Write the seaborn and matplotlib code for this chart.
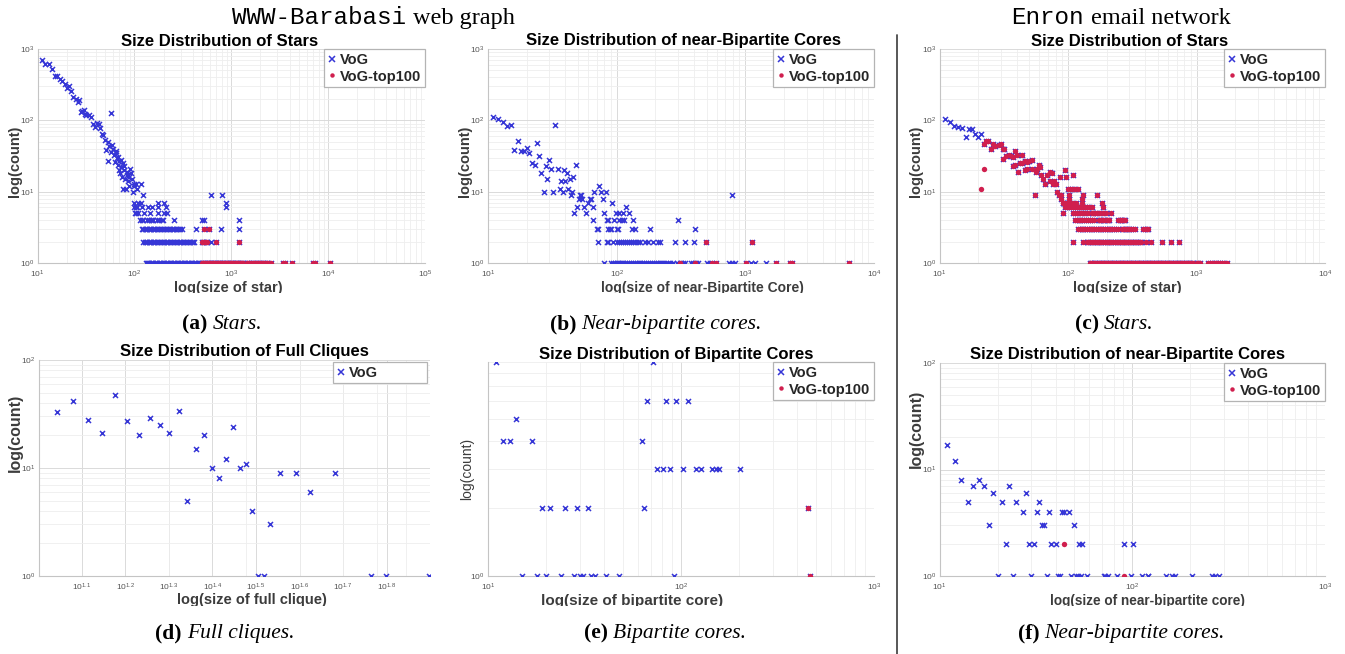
import numpy as np
import pandas as pd
import matplotlib
matplotlib.use('Agg')
import matplotlib.pyplot as plt
import seaborn as sns
from matplotlib.lines import Line2D
from matplotlib.patches import Rectangle
from matplotlib.ticker import LogLocator, FixedLocator, FixedFormatter, NullFormatter

# ------------------------------------------------------------------ data
# (a) WWW-Barabasi, stars
a_curve_sizes = [11,12,13,14,15,16,17,18,19,20,21,22,23,25,26,27,28,29,30,31,32,34,36,37,39,41,43,44,46,48,
                 50,51,53,54,55,57,58,59,60,62,63,64,65,66,67,68,69,70,71,72,73,75,76,77,78,79,80,82,83,84,
                 86,87,88,90,92,94,97,99,100,105,107,117,124]
a_curve_counts = [697,607,607,517,421,421,378,355,319,286,305,257,214,199,182,190,132,136,141,123,117,117,113,89,81,93,88,77,64,62,
                  53,38,50,27,43,36,128,45,40,33,26,37,35,30,24,31,20,27,18,28,22,16,25,11,23,20,15,11,19,17,
                  14,16,12,21,18,15,10,13,12,13,11,13,9]
a_c9 = [612, 807]
a_c7 = [99, 110, 118, 177, 202, 881]
a_c6 = [99, 103, 106, 119, 139, 151, 174, 210, 881]
a_c5 = [101, 104, 108, 127, 145, 177, 202, 215]
a_c4 = [115, 120, 124, 136, 141, 147, 151, 157, 172, 181, 191, 199, 257, 495, 523, 1200]
a_c3 = [120, 124, 128, 132, 136, 140, 145, 150, 155, 160, 165, 171, 177, 183, 190, 197, 204, 211, 218, 226,
        234, 242, 250, 259, 268, 278, 288, 298, 308, 430, 776, 1200]
a_c2 = [124, 128, 132, 136, 140, 145, 150, 155, 160, 165, 171, 177, 183, 189, 196, 203, 210, 217, 225, 233,
        241, 249, 258, 267, 276, 286, 296, 306, 317, 328, 340, 352, 364, 377, 390, 404, 412, 612]
a_c1 = [131, 135, 139, 143, 147, 152, 157, 162, 167, 172, 178, 184, 190, 196, 203, 210, 217, 224, 232, 240,
        248, 256, 265, 274, 283, 293, 303, 313, 324, 335, 346, 358, 370, 383, 396, 409, 423, 437, 452, 467,
        483, 612, 760]
a_top_c3 = [527, 593]
a_top_c2 = [495, 510, 525, 545, 565, 695, 1200]
a_top_c1 = [495, 510, 525, 541, 557, 574, 591, 609, 627, 646, 665, 685, 706, 727, 749, 771, 795, 828, 853, 879,
            905, 932, 960, 989, 1019, 1050, 1081, 1114, 1147, 1182, 1217, 1254, 1292, 1330, 1440, 1490, 1540,
            1600, 1660, 1720, 1780, 1850, 1920, 1990, 2070, 2150, 2240, 2320, 2400, 2600, 3430, 3570, 4280,
            6900, 7400, 10500]

# (b) WWW-Barabasi, near-bipartite cores
b_curve_sizes = [11,12,13,14,15,16,17,18,19,20,21,22,23,24,25,26,27,28,29,30,31,32,33,
                 35,36,37,38,39,40,41,42,43,44,45,46,47,48,49,
                 51,52,53,54,56,58,60,62,63,66,67,
                 73,75,78,80,82,92,99,104,112,119,124,790]
b_curve_counts = [112,104,95,84,87,39,51,37,37,41,35,25,24,48,32,18,10,23,15,28,21,10,85,
                  21,11,14,10,20,14,18,11,15,9,10,16,5,24,6,
                  8,9,9,8,6,5,7,8,8,6,10,
                  12,10,8,5,10,7,5,5,5,6,5,9]
b_c4 = [66, 84, 86, 95, 105, 110, 114, 133, 301]
b_c3 = [70, 71, 86, 88, 91, 100, 102, 131, 138, 181, 409]
b_c2 = [72, 84, 86, 94, 100, 104, 108, 112, 116, 120, 125, 130, 135, 140, 146, 152, 166, 176, 192, 210,
        217, 283, 338, 402]
b_c1 = [80, 91, 94, 97, 100, 103, 106, 110, 113, 117, 121, 125, 129, 133, 138, 143, 148, 153, 158, 164,
        170, 176, 182, 188, 195, 202, 209, 216, 223, 230, 240, 250, 262, 276, 292, 318, 329, 339, 381, 395,
        417, 429, 506, 530, 743, 790, 826, 1112, 1180, 1452]
b_top_c2 = [492, 1122]
b_top_c1 = [309, 405, 553, 596, 1016, 1738, 2240, 2320, 6350]

# (c) Enron, stars
c_vog_sizes = [11, 12, 13, 14, 15, 16, 17, 18, 19, 20, 21]
c_vog_counts = [103, 95, 82, 80, 77, 59, 76, 76, 65, 58, 65]
c_top_sizes = [21, 22]
c_top_counts = [11, 21]
c_both_sizes = [22,23,24,25,26,27,29,30,31,31,32,33,35,36,37,37,39,39,40,41,42,44,44,46,46,48,48,50,52,52,
                55,56,57,59,61,62,64,66,69,72,73,75,76,78,80,82,85,86,88,89,91,93,95,97,100,104,108,110,113,119]
c_both_counts = [46,51,52,40,47,43,45,47,40,29,40,32,33,32,31,23,37,24,33,19,25,25,33,27,20,26,21,27,28,21,
                 9,19,21,24,22,17,15,13,17,19,14,18,13,14,13,10,9,16,8,9,7,7,20,16,11,11,11,17,11,11]
c_c9 = [101, 130, 167]
c_c8 = [102, 129]
c_c7 = [91, 93, 98, 104, 110, 115, 129, 185]
c_c6 = [95, 98, 102, 106, 110, 114, 118, 122, 126, 130, 135, 140, 146, 153, 186]
c_c5 = [92, 110, 114, 118, 123, 128, 135, 144, 153, 157, 162, 167, 177, 188, 197, 218]
c_c4 = [113, 117, 121, 125, 129, 133, 138, 143, 148, 153, 160, 174, 178, 182, 187, 191, 200, 205, 209, 246,
        252, 258, 265, 271, 277]
c_c3 = [120, 124, 128, 132, 136, 140, 145, 150, 155, 160, 165, 170, 176, 182, 188, 194, 200, 207, 214, 221,
        228, 235, 246, 261, 268, 276, 284, 292, 301, 310, 319, 332, 385, 396, 410, 421]
c_c2 = [109, 132, 140, 144, 148, 153, 157, 162, 167, 172, 177, 182, 188, 194, 200, 206, 212, 218, 225, 232,
        239, 246, 253, 261, 269, 277, 285, 294, 303, 312, 321, 331, 341, 351, 362, 373, 403, 440, 538, 630, 725]
c_c1 = [147, 151, 155, 159, 163, 168, 173, 178, 183, 188, 193, 199, 205, 211, 217, 223, 229, 236, 243, 250,
        257, 264, 272, 280, 288, 296, 305, 314, 323, 332, 342, 352, 362, 372, 383, 394, 405, 417, 429, 441,
        454, 467, 480, 494, 508, 523, 538, 553, 569, 586, 603, 620, 638, 656, 675, 695, 715, 735, 756, 778,
        800, 823, 847, 871, 896, 922, 942, 1000, 1030, 1062, 1233, 1280, 1330, 1387, 1428, 1480, 1530, 1590,
        1650, 1738]

# (d) WWW-Barabasi, full cliques
d_sizes = [11,12,13,14,15,16,17,18,19,20,21,22,23,24,25,26,27,28,29,30,31,32,33,34,36,39,42,48,58,63,79]
d_counts = [33,42,28,21,47,27,20,29,25,21,34,5,15,20,10,8,12,24,10,11,4,1,1,3,9,9,6,9,1,1,1]
d_xtick_exps = [1.1, 1.2, 1.3, 1.4, 1.5, 1.6, 1.7, 1.8]

# (e) WWW-Barabasi, bipartite cores
e_sizes = [11,12,13,14,15,17,18,19,20,21,24,25,28,29,30,31,33,34,36,41,48,63,64,67,72,75,81,84,88,92,94,
           103,109,120,127,144,151,157,201,453,468]
e_counts = [9,4,4,5,1,4,1,2,1,2,1,2,1,2,1,1,2,1,1,1,1,4,2,6,9,3,3,6,3,1,6,3,6,3,3,3,3,3,3,2,1]
e_top_sizes = [453, 468]
e_top_counts = [2, 1]

# (f) Enron, near-bipartite cores
f_sizes = [11,12,13,14,15,16,17,18,19,20,21,22,23,24,25,27,28,29,30,31,32,33,34,35,36,37,38,40,41,42,43,44,
           47,48,50,51,52,53,54,55,58,71,72,75,83,91,99,101,112,120,121,149,161,166,203,259,269,281]
f_counts = [17,12,8,5,7,8,7,3,6,1,5,2,7,1,5,4,6,2,1,2,4,5,3,3,1,4,2,2,1,1,4,4,
            4,1,3,1,1,2,1,2,1,1,1,1,1,2,1,2,1,1,1,1,1,1,1,1,1,1]
f_top_sizes = [44, 91]
f_top_counts = [2, 1]

legend_labels = ['VoG', 'VoG-top100']

# ------------------------------------------------------------------ helpers
def rows(pairs):
    xs, ys = [], []
    for cnt, sizes in pairs:
        xs += list(sizes)
        ys += [cnt] * len(sizes)
    return xs, ys

def frame(xs, ys):
    return pd.DataFrame({'size': np.asarray(xs, float), 'count': np.asarray(ys, float)})

# assemble series
a_rx, a_ry = rows([(1, a_top_c1), (2, a_top_c2), (3, a_top_c3)])
a_bx, a_by = rows([(1, a_c1), (2, a_c2), (3, a_c3), (4, a_c4), (5, a_c5), (6, a_c6), (7, a_c7), (9, a_c9)])
a_blue = frame(a_curve_sizes + a_bx + a_rx, a_curve_counts + a_by + a_ry)
a_red = frame(a_rx, a_ry)

b_rx, b_ry = rows([(1, b_top_c1), (2, b_top_c2)])
b_bx, b_by = rows([(1, b_c1), (2, b_c2), (3, b_c3), (4, b_c4)])
b_blue = frame(b_curve_sizes + b_bx + b_rx, b_curve_counts + b_by + b_ry)
b_red = frame(b_rx, b_ry)

c_sx, c_sy = rows([(1, c_c1), (2, c_c2), (3, c_c3), (4, c_c4), (5, c_c5), (6, c_c6), (7, c_c7), (8, c_c8), (9, c_c9)])
c_blue = frame(c_vog_sizes + c_both_sizes + c_sx, c_vog_counts + c_both_counts + c_sy)
c_red = frame(c_both_sizes + c_sx + c_top_sizes, c_both_counts + c_sy + c_top_counts)

d_blue = frame(d_sizes, d_counts)
e_blue = frame(e_sizes, e_counts)
e_red = frame(e_top_sizes, e_top_counts)
f_blue = frame(f_sizes, f_counts)
f_red = frame(f_top_sizes, f_top_counts)

# ------------------------------------------------------------------ style
sns.set_style('white')
plt.rcParams['font.family'] = ['Liberation Sans', 'DejaVu Sans']
plt.rcParams['mathtext.fontset'] = 'custom'
plt.rcParams['mathtext.rm'] = 'Liberation Sans'
plt.rcParams['mathtext.it'] = 'Liberation Sans'
plt.rcParams['mathtext.default'] = 'regular'

BLUE = '#3636d6'
RED = '#d01f4e'
LABEL_C = '#3c3c3c'
W, H = 1345, 654

fig = plt.figure(figsize=(W / 100, H / 100), dpi=100)
fig.patch.set_facecolor('white')


def make_ax(rect):
    l, t, r, b = rect
    return fig.add_axes([l / W, 1 - b / H, (r - l) / W, (b - t) / H])


def style_ax(ax, xlim, ylim):
    ax.set_xscale('log')
    ax.set_yscale('log')
    ax.set_xlim(*xlim)
    ax.set_ylim(*ylim)
    ax.xaxis.set_minor_locator(LogLocator(base=10, subs=np.arange(2, 10), numticks=100))
    ax.yaxis.set_minor_locator(LogLocator(base=10, subs=np.arange(2, 10), numticks=100))
    ax.xaxis.set_minor_formatter(NullFormatter())
    ax.yaxis.set_minor_formatter(NullFormatter())
    ax.grid(True, which='major', color='#dadada', lw=0.7)
    ax.grid(True, which='minor', color='#eeeeee', lw=0.6)
    ax.set_axisbelow(True)
    for sp in ['top', 'right']:
        ax.spines[sp].set_visible(False)
    for sp in ['left', 'bottom']:
        ax.spines[sp].set_color('#c4c4c4')
        ax.spines[sp].set_linewidth(0.8)
    ax.tick_params(which='both', length=0, labelsize=6, labelcolor='#555555')
    ax.tick_params(axis='x', which='both', pad=3.8)
    ax.tick_params(axis='y', which='both', pad=2.4)


def plot_series(ax, blue, red):
    sns.scatterplot(data=blue, x='size', y='count', ax=ax, marker='x', color=BLUE, s=13,
                    linewidth=1.1, legend=False, zorder=3)
    if red is not None:
        sns.scatterplot(data=red, x='size', y='count', ax=ax, marker='o', color=RED, s=15,
                        linewidth=0, legend=False, zorder=4)


def add_legend(ax, two=True, expand_box=None):
    h1 = Line2D([], [], ls='none', marker='x', color=BLUE, markersize=4, mew=1.1)
    h2 = Line2D([], [], ls='none', marker='o', color=RED, markersize=3.2, mew=0)
    handles = [h1, h2] if two else [h1]
    labels = legend_labels if two else legend_labels[:1]
    kw = dict(prop={'weight': 'bold', 'size': 10.5}, handlelength=0.6, handletextpad=0.25,
              borderpad=0.25, labelspacing=0.2, frameon=True, fancybox=False,
              edgecolor='#b4b4b4', framealpha=1, borderaxespad=0)
    if expand_box is None:
        leg = ax.legend(handles, labels, loc='upper right', bbox_to_anchor=(1, 1), **kw)
    else:
        leg = ax.legend(handles, labels, loc='upper left', bbox_to_anchor=expand_box,
                        mode='expand', **kw)
    leg.get_frame().set_linewidth(0.9)
    leg.set_zorder(6)


def place_labels(ax, rect, title, tpos, xlabel, xpos, xkw, ylabel, ypos, ykw):
    l, t, r, b = rect
    fig.text(tpos[0] / W, 1 - tpos[1] / H, title, ha='center', va='center',
             fontsize=12, fontweight='bold', color='black')
    ax.set_xlabel(xlabel, color=LABEL_C, **xkw)
    ax.xaxis.set_label_coords((xpos[0] - l) / (r - l), (b - xpos[1]) / (b - t))
    ax.xaxis.label.set_va('center')
    ax.set_ylabel(ylabel, color=LABEL_C, **ykw)
    ax.yaxis.set_label_coords((ypos[0] - l) / (r - l), (b - ypos[1]) / (b - t))
    ax.yaxis.label.set_va('center')


BOLD = lambda s: {'fontsize': s, 'fontweight': 'bold'}
NORM = lambda s: {'fontsize': s, 'fontweight': 'normal'}

# ---- panel (a)
RA = (37.5, 49, 425, 263)
ax = make_ax(RA)
plot_series(ax, a_blue, a_red)
style_ax(ax, (1e1, 1e5), (1e0, 1e3))
add_legend(ax)
place_labels(ax, RA, 'Size Distribution of Stars', (220, 41), 'log(size of star)', (228, 288), BOLD(10.5),
             'log(count)', (15, 161), BOLD(10.5))

# ---- panel (b)
RB = (488, 49, 874, 263)
ax = make_ax(RB)
plot_series(ax, b_blue, b_red)
style_ax(ax, (1e1, 1e4), (1e0, 1e3))
add_legend(ax)
place_labels(ax, RB, 'Size Distribution of near-Bipartite Cores', (683, 41),
             'log(size of near-Bipartite Core)', (702, 288), BOLD(10),
             'log(count)', (465, 161), BOLD(10.5))

# ---- panel (c)
RC = (939.5, 49, 1325, 263)
ax = make_ax(RC)
plot_series(ax, c_blue, c_red)
style_ax(ax, (1e1, 1e4), (1e0, 1e3))
add_legend(ax)
place_labels(ax, RC, 'Size Distribution of Stars', (1130, 41), 'log(size of star)', (1127, 288), BOLD(10.5),
             'log(count)', (916.5, 161), BOLD(10.5))

# ---- panel (d)
RD = (38.5, 360, 430, 576)
ax = make_ax(RD)
plot_series(ax, d_blue, None)
style_ax(ax, (10 ** 1.0, 10 ** 1.9), (1e0, 1e2))
ax.xaxis.set_major_locator(FixedLocator([10 ** e for e in d_xtick_exps]))
ax.xaxis.set_major_formatter(FixedFormatter(['$10^{%s}$' % e for e in d_xtick_exps]))
ax.xaxis.set_minor_locator(FixedLocator([20, 30, 40, 50, 60, 70]))
add_legend(ax, two=False, expand_box=((333 - 38.5) / (430 - 38.5), 1 - 2 / 216, 94 / (430 - 38.5), 0))
place_labels(ax, RD, 'Size Distribution of Full Cliques', (244, 352), 'log(size of full clique)', (252, 600),
             BOLD(10.5), 'log(count)', (15, 433), BOLD(11.5))

# ---- panel (e)
RE = (488, 362, 874, 576)
ax = make_ax(RE)
plot_series(ax, e_blue, e_red)
style_ax(ax, (1e1, 1e3), (1, 9))
add_legend(ax)
place_labels(ax, RE, 'Size Distribution of Bipartite Cores', (676, 354), 'log(size of bipartite core)',
             (632, 601), BOLD(11), 'log(count)', (467, 469), NORM(10))

# ---- panel (f)
RF = (939.5, 363, 1325, 576)
ax = make_ax(RF)
plot_series(ax, f_blue, f_red)
style_ax(ax, (1e1, 1e3), (1e0, 1e2))
add_legend(ax)
place_labels(ax, RF, 'Size Distribution of near-Bipartite Cores', (1127, 355),
             'log(size of near-bipartite core)', (1147, 601), BOLD(9.8),
             'log(count)', (916, 429), BOLD(11.5))

# ---- crop bands (the source sub-figures cut the x-axis labels)
for y0, y1 in [(292.5, 306), (605.5, 618)]:
    fig.patches.append(Rectangle((0, 1 - y1 / H), 1, (y1 - y0) / H, transform=fig.transFigure,
                                 facecolor='white', edgecolor='none', zorder=5))

# ---- separator
fig.add_artist(Line2D([897 / W, 897 / W], [1 - 35 / H, 0], transform=fig.transFigure,
                      color='#4a4a4a', lw=1.3, zorder=10))

# ---- headers and captions with mixed fonts
fig.canvas.draw()
renderer = fig.canvas.get_renderer()


def mixed(cx, baseline, parts, gap):
    texts, widths = [], []
    for s, kw in parts:
        t = fig.text(0, 1 - baseline / H, s, ha='left', va='baseline', color='black', **kw)
        texts.append(t)
        widths.append(t.get_window_extent(renderer).width)
    total = sum(widths) + gap * (len(parts) - 1)
    x = cx - total / 2
    for t, w in zip(texts, widths):
        t.set_x(x / W)
        x += w + gap


MONO = {'family': ['Liberation Mono', 'DejaVu Sans Mono'], 'fontsize': 17.5}
SERIF = {'family': ['Liberation Serif', 'DejaVu Serif'], 'fontsize': 17.5}
CB = {'family': ['Liberation Serif', 'DejaVu Serif'], 'fontsize': 15.5, 'fontweight': 'bold'}
CI = {'family': ['Liberation Serif', 'DejaVu Serif'], 'fontsize': 15.5, 'style': 'italic'}

mixed(373, 24, [('WWW-Barabasi', MONO), ('web graph', SERIF)], 7)
mixed(1121, 24, [('Enron', MONO), ('email network', SERIF)], 7)

captions = [
    (222, 329, '(a)', 'Stars.'),
    (656, 329, '(b)', 'Near-bipartite cores.'),
    (1114, 329, '(c)', 'Stars.'),
    (225, 638, '(d)', 'Full cliques.'),
    (665, 638, '(e)', 'Bipartite cores.'),
    (1121, 638, '(f)', 'Near-bipartite cores.'),
]
for cx, by, tag, txt in captions:
    mixed(cx, by, [(tag, CB), (txt, CI)], 5)

fig.savefig('out.png', dpi=100, facecolor='white')
